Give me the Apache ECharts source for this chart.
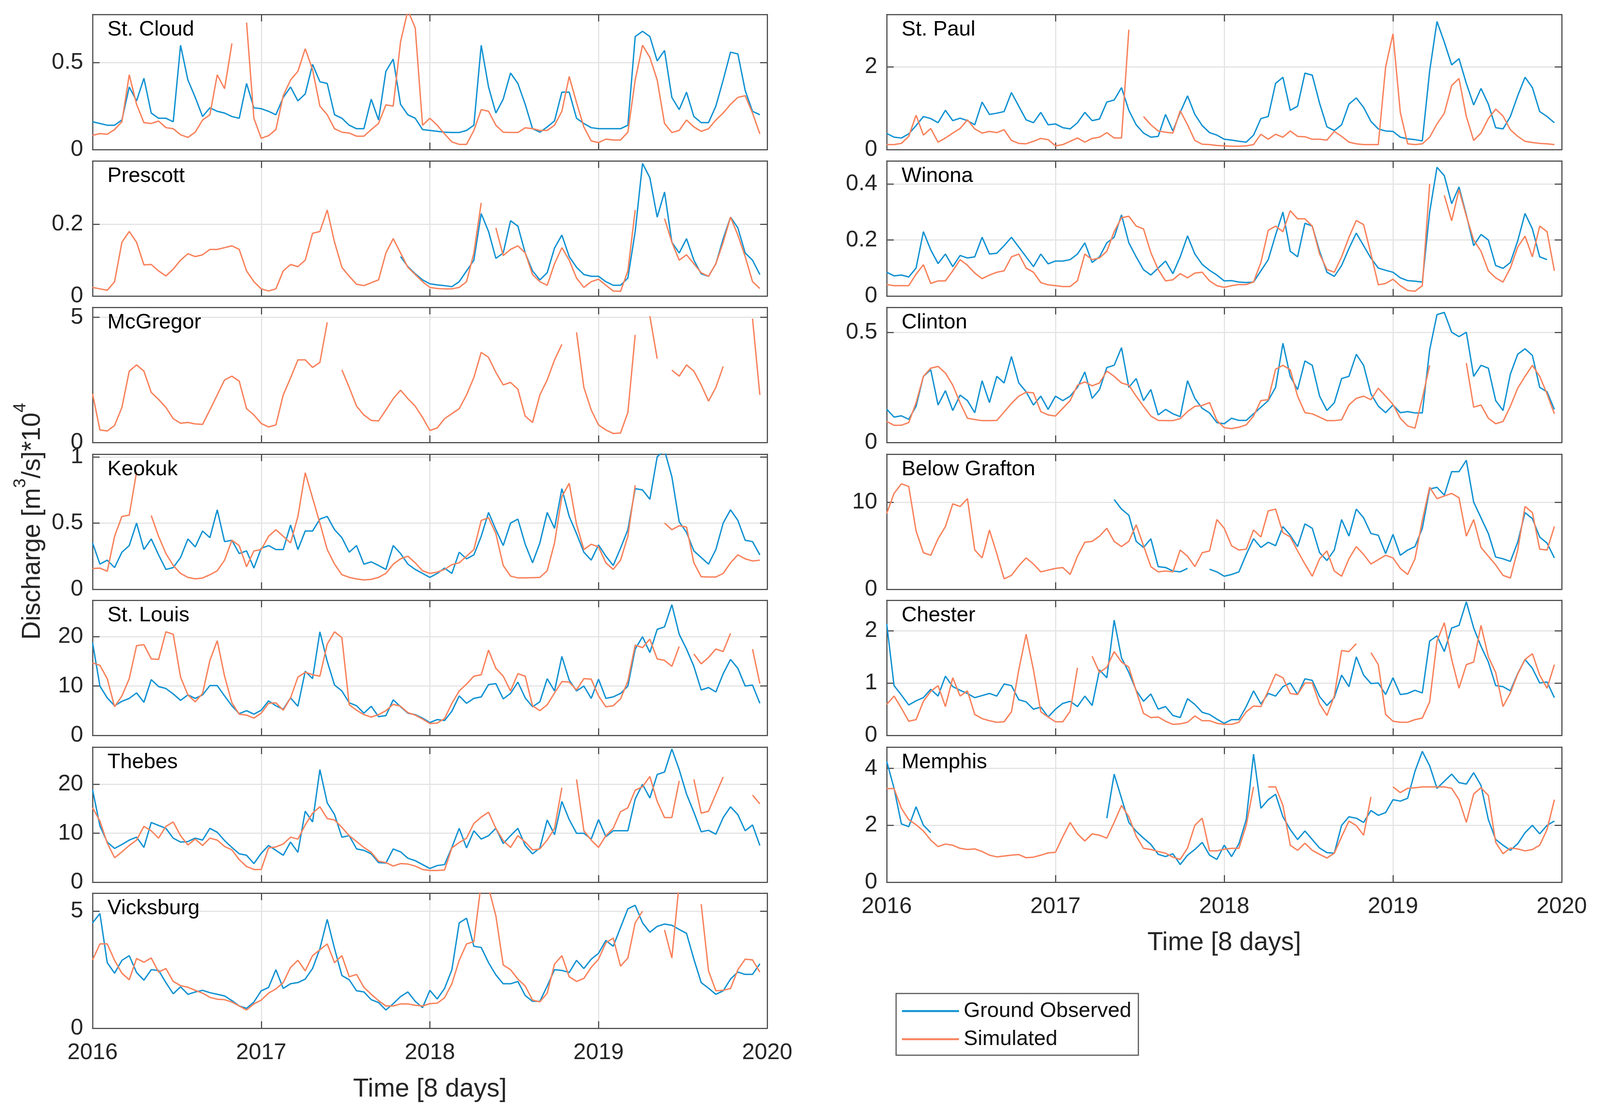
<!DOCTYPE html>
<html><head><meta charset="utf-8">
<script src="https://cdn.jsdelivr.net/npm/echarts@6/dist/echarts.min.js"></script>
<style>html,body{margin:0;padding:0;background:#fff}#c{width:4106px;height:2850px}</style>
</head><body><div id="c"></div>
<script>
const N = null;
// time grid: 16-day steps from 2016.0 (23 steps per year)
const STEPS_PER_YEAR = 23;
const yearTicks = [2016, 2017, 2018, 2019, 2020];
const seriesNames = ['Ground Observed', 'Simulated'];

// ---- values in 10^4 m3/s, one row per year (2016..2019) ----
const stCloudObs = [0.16,0.15,0.14,0.14,0.17,0.36,0.28,0.41,0.21,0.18,0.18,0.16,0.60,0.40,0.30,0.19,0.24,0.22,0.21,0.19,0.18,0.38,0.24,
 0.235,0.22,0.20,0.30,0.36,0.28,0.32,0.49,0.39,0.38,0.20,0.18,0.14,0.12,0.12,0.29,0.17,0.45,0.52,0.26,0.20,0.18,0.115,
 0.11,0.105,0.10,0.098,0.098,0.11,0.14,0.60,0.36,0.21,0.29,0.44,0.38,0.26,0.12,0.10,0.13,0.165,0.33,0.33,0.18,0.15,0.126,
 0.12,0.12,0.12,0.12,0.14,0.65,0.68,0.65,0.51,0.57,0.30,0.23,0.33,0.19,0.155,0.155,0.25,0.40,0.56,0.55,0.34,0.22,0.20];
const stCloudSim = [0.082,0.092,0.088,0.115,0.16,0.43,0.26,0.155,0.15,0.164,0.126,0.12,0.085,0.07,0.10,0.17,0.20,0.43,0.35,0.61,N,0.73,0.18,
 0.065,0.08,0.115,0.31,0.40,0.45,0.58,0.46,0.25,0.20,0.12,0.10,0.095,0.077,0.077,0.115,0.15,0.257,0.25,0.62,0.80,0.70,0.14,
 0.18,0.14,0.09,0.044,0.03,0.03,0.11,0.23,0.22,0.14,0.10,0.098,0.098,0.125,0.12,0.11,0.11,0.14,0.22,0.42,0.27,0.13,0.05,
 0.04,0.06,0.055,0.055,0.10,0.40,0.60,0.53,0.40,0.15,0.098,0.11,0.17,0.13,0.105,0.12,0.17,0.21,0.26,0.30,0.31,0.21,0.09];

const prescottObs = [N,N,N,N,N,N,N,N,N,N,N,N,N,N,N,N,N,N,N,N,N,N,N,
 N,N,N,N,N,N,N,N,N,N,N,N,N,N,N,N,N,N,N,0.11,0.082,0.062,0.045,
 0.034,0.031,0.029,0.026,0.04,0.07,0.10,0.23,0.18,0.105,0.12,0.21,0.195,0.12,0.07,0.045,0.065,0.134,0.17,0.11,0.08,0.06,0.055,
 0.055,0.04,0.03,0.03,0.05,0.18,0.37,0.33,0.22,0.29,0.15,0.12,0.16,0.10,0.062,0.055,0.09,0.16,0.22,0.19,0.12,0.10,0.06];
const prescottSim = [0.024,0.02,0.016,0.04,0.15,0.18,0.15,0.087,0.088,0.07,0.056,0.075,0.10,0.118,0.11,0.115,0.13,0.13,0.135,0.14,0.13,0.07,0.04,
 0.02,0.014,0.02,0.07,0.088,0.082,0.10,0.175,0.18,0.24,0.15,0.08,0.055,0.033,0.029,0.037,0.045,0.12,0.16,0.12,0.08,0.06,0.04,
 0.024,0.021,0.02,0.02,0.024,0.04,0.12,0.26,N,0.19,0.113,0.13,0.14,0.12,0.06,0.04,0.03,0.09,0.135,0.10,0.05,0.024,0.04,
 0.047,0.03,0.014,0.013,0.07,0.24,N,N,N,0.216,0.15,0.10,0.115,0.09,0.065,0.055,0.09,0.15,0.22,0.17,0.11,0.04,0.021];

const mcgregorObs = new Array(92).fill(N);
const mcgregorSim = [1.94,0.50,0.46,0.68,1.4,2.85,3.10,2.85,2.0,1.72,1.40,0.95,0.77,0.80,0.74,0.72,1.3,1.9,2.5,2.65,2.45,1.35,1.1,
 0.76,0.62,0.70,1.9,2.58,3.3,3.3,3.0,3.2,4.8,N,2.9,2.2,1.45,1.1,0.88,0.86,1.3,1.75,2.09,1.75,1.45,1.0,
 0.48,0.58,0.95,1.15,1.35,1.9,2.6,3.6,3.4,2.8,2.3,2.40,2.13,1.05,0.8,1.9,2.5,3.3,3.92,N,4.4,2.2,1.3,
 0.7,0.5,0.36,0.38,1.2,4.3,N,5.05,3.35,N,2.89,2.65,3.1,2.85,2.3,1.65,2.2,3.04,N,N,N,4.95,1.9];

const keokukObs = [0.35,0.19,0.22,0.164,0.28,0.33,0.50,0.30,0.38,0.26,0.15,0.164,0.24,0.38,0.32,0.44,0.39,0.60,0.36,0.37,0.27,0.29,0.16,
 0.31,0.33,0.30,0.30,0.486,0.30,0.44,0.44,0.53,0.55,0.45,0.39,0.28,0.33,0.19,0.207,0.18,0.15,0.33,0.27,0.19,0.15,0.12,
 0.09,0.12,0.16,0.12,0.28,0.23,0.26,0.40,0.58,0.45,0.33,0.50,0.53,0.34,0.20,0.35,0.58,0.46,0.76,0.55,0.42,0.28,0.22,
 0.335,0.25,0.18,0.31,0.45,0.76,0.75,0.68,1.0,1.05,0.85,0.51,0.43,0.29,0.24,0.19,0.30,0.50,0.60,0.52,0.37,0.36,0.26];
const keokukSim = [0.157,0.16,0.136,0.40,0.55,0.56,0.886,N,0.557,0.40,0.27,0.18,0.12,0.09,0.079,0.085,0.11,0.14,0.22,0.37,0.33,0.17,0.29,
 0.30,0.40,0.45,0.40,0.35,0.55,0.88,0.69,0.50,0.30,0.19,0.11,0.09,0.078,0.071,0.075,0.09,0.12,0.19,0.23,0.25,0.20,0.14,
 0.12,0.13,0.15,0.186,0.20,0.25,0.30,0.52,0.54,0.42,0.18,0.10,0.086,0.086,0.088,0.09,0.14,0.35,0.70,0.80,0.49,0.30,0.34,
 0.32,0.20,0.15,0.22,0.40,0.786,N,N,N,0.50,0.45,0.48,0.47,0.20,0.095,0.093,0.093,0.12,0.20,0.26,0.23,0.214,0.22];

const stLouisObs = [18.8,10.0,7.6,6.0,6.9,7.5,8.6,6.7,11.3,9.9,9.5,8.4,7.1,8.2,7.5,8.2,10.1,10.1,8.0,6.0,4.4,5.0,4.3,
 5.1,7.0,6.0,5.3,7.6,5.9,13.0,11.5,21.0,15.0,10.2,9.0,6.6,6.0,4.5,5.9,3.8,4.0,7.2,5.8,4.5,4.2,3.5,
 2.6,3.2,3.0,4.9,8.0,6.5,7.5,7.8,10.3,10.5,7.4,8.5,10.8,7.6,5.8,6.8,11.5,9.0,16.0,11.2,9.0,10.0,7.5,
 11.4,7.5,7.8,8.5,10.0,17.5,20.0,16.8,21.5,22.0,26.5,20.5,17.5,14.0,9.2,9.7,8.8,12.5,15.4,13.6,10.0,10.2,6.5];
const stLouisSim = [14.7,14.2,11.5,5.8,8.0,11.5,18.2,18.4,15.5,15.4,21.0,20.5,11.8,8.2,6.8,8.5,15.2,19.2,12.0,6.6,4.3,4.1,3.5,
 4.5,6.5,6.6,5.1,7.6,11.8,12.8,12.3,12.0,18.5,21.0,19.8,6.2,5.1,4.2,3.7,4.2,5.0,6.3,5.9,4.6,4.1,3.3,
 2.4,2.5,3.4,6.5,9.0,10.4,12.0,12.3,17.3,13.6,12.0,9.0,12.5,12.0,6.0,5.0,6.2,8.6,10.9,10.8,9.2,11.5,11.4,
 8.0,5.8,6.0,7.4,11.0,18.3,17.8,19.5,15.5,15.2,14.0,18.0,N,16.5,14.5,15.8,17.5,17.0,20.7,N,N,17.5,10.5];

const thebesObs = [18.9,11.5,8.2,6.9,7.7,8.6,9.2,7.1,12.2,11.6,11.0,9.0,8.2,8.3,9.0,8.6,11.0,10.2,8.5,7.1,5.8,5.5,3.8,
 5.9,7.5,6.5,5.5,8.2,6.1,14.5,12.3,23.0,16.2,13.8,9.2,9.5,6.8,6.5,5.8,4.0,3.9,6.8,6.2,4.9,4.4,3.6,
 2.8,3.4,3.6,7.1,11.0,7.0,10.5,8.8,9.5,11.0,7.9,9.5,11.0,7.5,5.8,7.0,12.7,9.7,16.5,12.8,10.0,10.0,8.8,
 12.8,9.3,10.5,10.5,10.5,17.0,20.0,17.2,22.0,22.5,27.2,23.0,18.0,14.3,10.3,10.6,9.8,13.2,15.4,13.8,10.5,11.7,7.5];
const thebesSim = [15.2,12.5,8.0,5.0,6.2,7.5,8.6,11.4,10.5,9.0,11.4,12.3,9.5,7.6,8.8,7.5,9.0,8.6,7.3,6.6,4.6,3.2,2.6,
 2.6,7.0,7.2,7.8,9.2,8.8,11.7,14.1,15.4,13.0,12.7,11.2,9.5,8.3,7.1,6.1,4.3,4.0,3.3,3.8,3.7,3.3,2.6,
 2.4,2.4,2.5,7.0,8.1,9.0,12.0,13.3,14.3,11.0,8.5,7.1,9.5,8.2,6.6,6.8,8.6,11.0,19.3,N,21.0,10.5,8.6,
 7.1,9.5,11.0,14.4,15.2,18.8,19.5,21.6,16.5,13.2,13.2,20.7,N,21.0,14.1,14.5,18.0,21.5,N,N,N,17.8,16.0];

const vicksburgObs = [4.5,4.9,2.8,2.35,2.9,3.1,2.38,2.05,2.5,2.47,1.95,1.47,1.77,1.45,1.55,1.62,1.52,1.45,1.38,1.18,0.95,0.85,1.12,
 1.6,1.74,2.5,1.7,1.9,1.95,2.1,2.55,3.4,4.65,3.4,2.25,2.07,1.6,1.55,1.22,1.1,0.78,1.05,1.35,1.55,1.15,0.88,
 1.62,1.25,1.7,2.5,4.5,4.7,3.5,3.45,2.8,2.28,1.9,1.9,2.0,1.4,1.15,1.15,1.8,2.5,2.47,2.38,2.9,2.55,2.95,
 3.2,3.75,3.5,4.3,5.1,5.25,4.5,4.1,4.35,4.45,4.4,4.22,4.05,2.95,1.95,1.71,1.45,1.6,2.1,2.4,2.3,2.3,2.75];
const vicksburgSim = [2.92,3.6,3.6,2.9,2.35,2.07,2.98,2.82,3.0,2.4,2.55,2.0,1.82,1.75,1.62,1.5,1.32,1.24,1.22,1.12,0.95,0.78,1.04,
 1.2,1.5,1.68,1.95,2.6,2.9,2.45,3.1,3.35,3.6,2.8,3.1,2.2,2.3,1.75,1.45,1.18,0.95,0.95,1.04,1.04,0.98,0.95,
 1.05,1.07,1.3,1.9,2.9,3.6,3.7,6.2,6.0,4.8,2.7,2.5,2.1,1.8,1.2,1.13,1.5,2.74,3.1,2.2,2.0,2.13,2.6,
 2.95,3.65,3.85,2.65,3.0,4.5,5.0,N,N,4.2,3.0,6.2,N,N,5.3,2.45,1.6,1.62,1.7,2.5,2.95,2.92,2.4];

const stPaulObs = [0.39,0.30,0.28,0.38,0.58,0.80,0.75,0.65,0.95,0.70,0.76,0.70,0.60,1.15,0.85,0.88,0.92,1.38,1.05,0.72,0.65,0.90,0.60,
 0.62,0.53,0.50,0.65,0.90,0.70,0.74,1.15,1.20,1.50,0.95,0.60,0.40,0.30,0.32,0.85,0.45,0.90,1.30,0.85,0.58,0.41,0.35,
 0.25,0.23,0.20,0.18,0.35,0.75,0.80,1.60,1.75,0.95,1.05,1.85,1.80,1.12,0.55,0.46,0.60,1.10,1.25,1.02,0.68,0.50,0.45,
 0.44,0.30,0.26,0.24,0.21,1.9,3.1,2.6,2.05,2.2,1.6,1.08,1.48,1.1,0.53,0.5,0.8,1.3,1.75,1.5,0.92,0.8,0.65];
const stPaulSim = [0.12,0.12,0.15,0.32,0.83,0.35,0.51,0.18,0.28,0.40,0.51,0.72,0.50,0.40,0.44,0.41,0.48,0.22,0.15,0.14,0.20,0.27,0.24,
 0.09,0.12,0.2,0.28,0.18,0.27,0.30,0.41,0.28,0.28,2.9,N,0.8,0.6,0.45,0.42,0.40,0.94,0.6,0.22,0.13,0.12,0.1,
 0.09,0.08,0.08,0.09,0.12,0.37,0.25,0.37,0.30,0.45,0.32,0.31,0.25,0.25,0.23,0.44,0.32,0.18,0.14,0.12,0.12,0.12,2.0,
 2.8,0.9,0.14,0.12,0.14,0.3,0.62,0.88,1.55,1.72,0.8,0.22,0.4,0.75,0.98,0.81,0.48,0.32,0.2,0.17,0.15,0.14,0.12];

const winonaObs = [0.085,0.072,0.075,0.068,0.10,0.23,0.165,0.116,0.15,0.105,0.145,0.136,0.14,0.21,0.15,0.153,0.18,0.21,0.175,0.14,0.105,0.15,0.115,
 0.125,0.125,0.13,0.15,0.19,0.12,0.14,0.19,0.21,0.29,0.19,0.14,0.094,0.075,0.10,0.125,0.08,0.14,0.215,0.15,0.113,0.092,0.075,
 0.054,0.055,0.05,0.048,0.05,0.09,0.13,0.218,0.30,0.16,0.14,0.26,0.25,0.16,0.085,0.07,0.109,0.17,0.225,0.18,0.135,0.10,0.092,
 0.085,0.065,0.055,0.053,0.05,0.30,0.46,0.43,0.33,0.39,0.29,0.18,0.22,0.20,0.109,0.099,0.12,0.197,0.295,0.24,0.14,0.13,N];
const winonaSim = [0.041,0.037,0.037,0.037,0.078,0.112,0.045,0.054,0.054,0.09,0.13,0.11,0.082,0.062,0.075,0.085,0.09,0.14,0.15,0.10,0.085,0.048,0.04,
 0.037,0.034,0.034,0.055,0.15,0.13,0.136,0.16,0.23,0.28,0.285,0.25,0.24,0.155,0.095,0.054,0.058,0.08,0.065,0.082,0.085,0.054,0.037,
 0.031,0.037,0.041,0.041,0.05,0.12,0.235,0.25,0.23,0.305,0.276,0.276,0.25,0.15,0.095,0.085,0.14,0.21,0.27,0.255,0.15,0.04,0.045,
 0.06,0.037,0.02,0.017,0.037,0.40,N,0.36,0.269,0.38,0.286,0.20,0.16,0.09,0.065,0.05,0.10,0.175,0.214,0.14,0.25,0.23,0.09];

const clintonObs = [0.151,0.115,0.121,0.105,0.164,0.30,0.33,0.17,0.235,0.145,0.215,0.19,0.135,0.28,0.181,0.30,0.27,0.39,0.27,0.23,0.17,0.21,0.15,
 0.21,0.19,0.21,0.25,0.32,0.20,0.24,0.34,0.35,0.43,0.25,0.29,0.19,0.24,0.125,0.15,0.13,0.117,0.28,0.20,0.155,0.134,0.09,
 0.085,0.11,0.10,0.10,0.13,0.16,0.19,0.25,0.45,0.30,0.24,0.37,0.35,0.21,0.145,0.18,0.29,0.30,0.40,0.35,0.22,0.165,0.135,
 0.17,0.135,0.14,0.134,0.134,0.42,0.58,0.59,0.50,0.48,0.50,0.30,0.35,0.337,0.19,0.145,0.31,0.40,0.425,0.395,0.25,0.23,0.15];
const clintonSim = [0.095,0.078,0.078,0.09,0.18,0.30,0.337,0.345,0.315,0.26,0.18,0.11,0.104,0.099,0.099,0.10,0.138,0.177,0.21,0.228,0.225,0.14,0.125,
 0.12,0.155,0.19,0.26,0.275,0.257,0.27,0.324,0.30,0.27,0.26,0.21,0.164,0.12,0.10,0.099,0.099,0.108,0.14,0.164,0.168,0.181,0.10,
 0.067,0.063,0.069,0.08,0.12,0.19,0.194,0.332,0.35,0.33,0.21,0.135,0.13,0.115,0.099,0.099,0.103,0.17,0.20,0.21,0.194,0.246,0.21,
 0.173,0.11,0.075,0.065,0.20,0.35,N,N,N,N,0.36,0.16,0.17,0.11,0.085,0.095,0.164,0.246,0.30,0.35,0.30,0.22,0.13];

const graftonObs = [N,N,N,N,N,N,N,N,N,N,N,N,N,N,N,N,N,N,N,N,N,N,N,
 N,N,N,N,N,N,N,N,10.3,9.2,8.5,5.5,4.8,5.8,2.6,2.5,2.1,2.0,2.4,N,N,2.3,2.0,
 1.5,1.7,2.0,4.0,5.8,4.8,5.4,5.0,7.2,6.2,4.9,7.5,7.0,4.2,3.3,4.5,8.0,6.1,9.2,8.2,6.4,6.2,4.1,
 6.3,3.9,4.5,4.9,7.0,11.5,11.7,10.8,13.5,13.5,14.8,10.0,8.2,6.4,3.7,3.5,3.2,5.4,8.8,8.1,6.0,5.3,3.6];
const graftonSim = [8.7,11.0,12.1,11.8,6.7,4.2,3.9,5.8,7.2,9.8,9.5,10.4,4.5,3.6,6.8,4.1,1.2,1.6,2.7,3.6,2.9,2.0,2.2,
 2.4,2.5,1.7,3.8,5.4,5.5,6.1,7.0,5.5,4.9,5.5,7.4,5.0,2.6,2.0,2.1,2.0,4.5,3.8,2.6,4.2,4.4,8.0,
 7.0,5.0,4.5,4.6,6.8,6.0,9.0,9.2,6.5,6.0,4.4,2.9,1.5,3.5,4.4,2.1,1.5,3.5,4.9,4.0,2.9,3.4,3.9,
 3.6,2.4,1.7,3.5,7.9,11.7,10.4,10.7,11.0,10.5,6.1,8.0,4.8,3.8,2.8,1.6,1.3,4.5,9.5,8.8,4.6,4.5,7.2];

const chesterObs = [2.13,0.95,0.77,0.58,0.66,0.72,0.88,0.75,1.13,0.93,0.86,0.80,0.72,0.76,0.80,0.75,0.98,0.95,0.68,0.64,0.50,0.54,0.35,
 0.50,0.61,0.65,0.55,0.75,0.57,1.25,1.1,2.2,1.48,1.2,0.86,0.65,0.79,0.50,0.55,0.38,0.34,0.70,0.59,0.44,0.40,0.31,
 0.23,0.30,0.30,0.55,0.85,0.6,0.80,0.75,0.93,1.0,0.78,1.08,1.05,0.74,0.57,0.72,1.15,0.93,1.5,1.15,0.99,1.0,0.78,
 1.1,0.78,0.8,0.86,0.81,1.8,1.9,1.6,2.05,2.1,2.55,2.05,1.7,1.4,0.95,0.93,0.85,1.18,1.45,1.28,1.0,1.02,0.72];
const chesterSim = [0.59,0.75,0.52,0.27,0.30,0.65,0.84,0.95,0.55,1.10,0.75,0.85,0.40,0.32,0.28,0.25,0.26,0.45,1.25,1.93,1.25,0.45,0.35,
 0.26,0.26,0.46,1.29,N,1.51,1.2,1.3,1.6,1.4,1.3,0.85,0.42,0.34,0.35,0.27,0.21,0.22,0.25,0.37,0.28,0.28,0.23,
 0.21,0.21,0.25,0.45,0.56,0.55,0.85,1.17,1.1,0.8,0.78,1.0,1.0,0.60,0.38,0.75,1.62,1.6,1.75,N,1.58,1.35,0.40,
 0.27,0.25,0.25,0.3,0.33,0.64,1.8,2.15,1.45,0.9,1.35,1.4,2.1,1.5,1.2,0.55,0.81,1.17,1.45,1.56,1.15,0.9,1.35];

const memphisObs = [4.25,3.3,2.05,1.95,2.65,2.0,1.74,N,N,N,N,N,N,N,N,N,N,N,N,N,N,N,N,
 N,N,N,N,N,N,N,2.25,3.8,2.95,2.1,1.79,1.55,1.33,0.98,0.9,1.0,0.62,0.95,1.15,1.4,0.95,0.8,
 1.3,0.9,1.35,2.2,4.5,2.6,2.9,3.09,2.3,1.85,1.5,1.8,1.5,1.2,1.04,1.02,2.0,2.3,2.25,2.1,2.52,2.35,2.45,
 2.9,2.85,2.95,3.9,4.6,4.09,3.3,3.55,3.8,3.5,3.45,3.85,3.4,2.2,1.5,1.3,1.12,1.35,1.74,2.0,1.7,2.0,2.15];
const memphisSim = [3.29,3.29,2.6,2.2,2.02,1.8,1.48,1.25,1.34,1.3,1.19,1.15,1.17,1.08,0.95,0.89,0.92,0.95,0.97,0.86,0.88,0.95,1.03,
 1.05,1.6,2.1,1.7,1.45,1.7,1.65,1.55,2.1,2.7,2.3,1.62,1.19,1.15,1.08,1.02,0.88,0.8,1.2,2.0,2.25,1.1,1.1,
 1.16,1.19,1.19,2.0,3.35,N,3.35,3.35,2.7,1.3,1.12,1.37,1.12,0.98,0.85,1.02,1.6,2.15,1.99,1.65,3.0,N,N,
 3.35,3.15,3.3,3.32,3.35,3.35,3.35,3.35,3.3,2.9,2.1,3.1,3.32,3.05,1.4,1.0,1.2,1.17,1.1,1.15,1.3,1.85,2.9];

// ---- panels: station, data, y-axis range ----
const panels = [
  {name:'St. Cloud', obs:stCloudObs, sim:stCloudSim, max:0.777, step:0.5, col:0, row:0},
  {name:'Prescott', obs:prescottObs, sim:prescottSim, max:0.377, step:0.2, col:0, row:1},
  {name:'McGregor', obs:mcgregorObs, sim:mcgregorSim, max:5.4, step:5, col:0, row:2},
  {name:'Keokuk', obs:keokukObs, sim:keokukSim, max:1.02, step:0.5, col:0, row:3},
  {name:'St. Louis', obs:stLouisObs, sim:stLouisSim, max:27.4, step:10, col:0, row:4},
  {name:'Thebes', obs:thebesObs, sim:thebesSim, max:27.6, step:10, col:0, row:5},
  {name:'Vicksburg', obs:vicksburgObs, sim:vicksburgSim, max:5.77, step:5, col:0, row:6},
  {name:'St. Paul', obs:stPaulObs, sim:stPaulSim, max:3.27, step:2, col:1, row:0},
  {name:'Winona', obs:winonaObs, sim:winonaSim, max:0.483, step:0.2, col:1, row:1},
  {name:'Clinton', obs:clintonObs, sim:clintonSim, max:0.613, step:0.5, col:1, row:2},
  {name:'Below Grafton', obs:graftonObs, sim:graftonSim, max:15.5, step:10, col:1, row:3},
  {name:'Chester', obs:chesterObs, sim:chesterSim, max:2.58, step:1, col:1, row:4},
  {name:'Memphis', obs:memphisObs, sim:memphisSim, max:4.75, step:2, col:1, row:5}
];

// ---- layout / style ----
const COL_LEFT = [237, 2270], COL_W = [1727, 1728];
const ROW_TOP = [37, 412, 787, 1163, 1537, 1913, 2287], PANEL_H = 346;
const BOTTOM_ROW = [6, 5];
const FONT = "'Liberation Sans', Arial, Helvetica, sans-serif";
const BLUE = '#1192d2', ORANGE = '#f8825c';
const AX = '#505050', GRIDC = '#e4e4e4', TXT = '#262626';

const axisLine = {show:true, onZero:false, lineStyle:{color:AX, width:3}};
const axisTick = {show:true, inside:true, length:18, lineStyle:{color:AX, width:3}};
const splitLine = {show:true, showMinLine:false, showMaxLine:false, lineStyle:{color:GRIDC, width:3}};

function yFmt(step){
  return v => { const r = v/step; return Math.abs(r-Math.round(r)) < 1e-6 ? String(Math.round(v*1000)/1000) : ''; };
}
function toData(arr){ return arr.map((v,i) => [yearTicks[0] + i/STEPS_PER_YEAR, v === null ? '-' : v]); }

const grid = [], xAxis = [], yAxis = [], series = [], graphic = [];
panels.forEach((p, k) => {
  grid.push({left:COL_LEFT[p.col], top:ROW_TOP[p.row], width:COL_W[p.col], height:PANEL_H,
             show:false, containLabel:false, outerBoundsMode:'none'});
  const isBottom = BOTTOM_ROW[p.col] === p.row;
  const xBase = {type:'value', gridIndex:k, min:yearTicks[0], max:yearTicks[yearTicks.length-1], interval:1,
                 axisLine, axisTick};
  xAxis.push(Object.assign({}, xBase, {position:'bottom', splitLine,
     axisLabel:{show:isBottom, margin:34, fontSize:58, color:TXT, fontFamily:FONT, formatter:v=>String(v)}}));
  xAxis.push(Object.assign({}, xBase, {position:'top', splitLine:{show:false}, axisLabel:{show:false}}));
  const yBase = {type:'value', gridIndex:k, min:0, max:p.max, interval:p.step, axisLine, axisTick};
  yAxis.push(Object.assign({}, yBase, {position:'left', splitLine,
     axisLabel:{show:true, margin:24, fontSize:58, color:TXT, fontFamily:FONT, formatter:yFmt(p.step)}}));
  yAxis.push(Object.assign({}, yBase, {position:'right', splitLine:{show:false}, axisLabel:{show:false}}));
  [[p.obs, seriesNames[0], BLUE], [p.sim, seriesNames[1], ORANGE]].forEach(([arr, nm, c]) => {
    series.push({type:'line', name:nm, xAxisIndex:2*k, yAxisIndex:2*k, data:toData(arr),
      showSymbol:false, symbol:'none', clip:true, connectNulls:false, color:c,
      itemStyle:{color:c}, lineStyle:{color:c, width:3.5}, emphasis:{disabled:true}, z:2});
  });
  graphic.push({type:'text', left:COL_LEFT[p.col]+38, top:ROW_TOP[p.row]+12, z:10,
    style:{text:p.name, fontSize:54, fontFamily:FONT, fill:'#000'}});
});

graphic.push({type:'text', x:74, y:1335, rotation:Math.PI/2, z:10,
  style:{text:'{n|Discharge [m}{s|3}{n|/s]*10}{s|4}', align:'center', verticalAlign:'middle',
    rich:{n:{fontSize:66, fontFamily:FONT, fill:TXT, lineHeight:86, verticalAlign:'bottom'},
          s:{fontSize:44, fontFamily:FONT, fill:TXT, lineHeight:86, verticalAlign:'top'}}}});
graphic.push({type:'text', x:(COL_LEFT[0]+COL_LEFT[0]+COL_W[0])/2, y:2790, z:10,
  style:{text:'Time [8 days]', fontSize:66, fontFamily:FONT, fill:TXT, align:'center', verticalAlign:'middle'}});
graphic.push({type:'text', x:(COL_LEFT[1]+COL_LEFT[1]+COL_W[1])/2, y:2415, z:10,
  style:{text:'Time [8 days]', fontSize:66, fontFamily:FONT, fill:TXT, align:'center', verticalAlign:'middle'}});

const chart = echarts.init(document.getElementById('c'), null, {renderer:'canvas', width:4106, height:2850});
chart.setOption({
  animation:false,
  backgroundColor:'#fff',
  grid, xAxis, yAxis, series, graphic,
  legend:{data:seriesNames, orient:'vertical', left:2294, top:2544, icon:'rect',
    itemWidth:146, itemHeight:5, itemGap:14, padding:[16,18,12,15],
    borderColor:'#5a5a5a', borderWidth:3, backgroundColor:'#fff',
    textStyle:{fontSize:54, fontFamily:FONT, color:'#111', lineHeight:58, padding:[0,0,0,7]}}
});
</script></body></html>
